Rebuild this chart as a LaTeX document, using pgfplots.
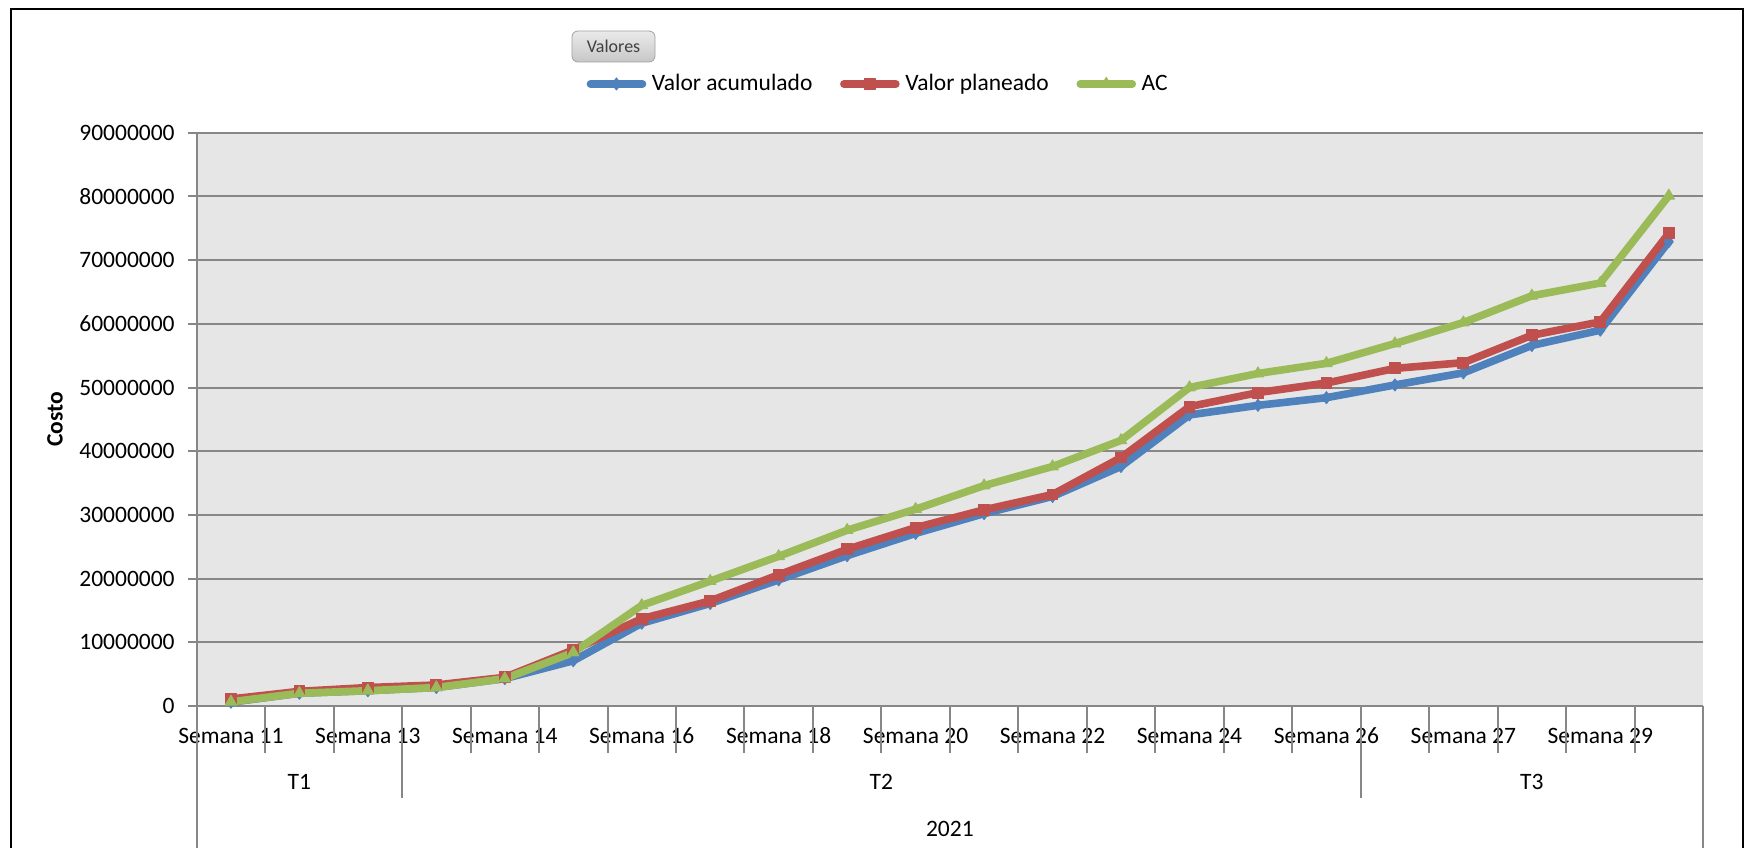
\documentclass[border=0pt]{standalone}
\usepackage{pgfplots}
\usepackage{pgfplotstable}
\pgfplotsset{compat=1.18}
\usepackage{fontspec}
\setmainfont{Carlito}
\definecolor{ser1}{HTML}{4F81BD}
\definecolor{ser2}{HTML}{C0504D}
\definecolor{ser3}{HTML}{9BBB59}
\definecolor{plotbg}{HTML}{E6E6E6}
\definecolor{gridc}{HTML}{878787}
\definecolor{btnborder}{HTML}{A0A0A0}
\newcommand\lbl{\fontsize{11.75}{14}\selectfont}
\pgfplotstableread{
x ev pv ac
0 600000 1100000 650000
1 2000000 2300000 2000000
2 2400000 2900000 2400000
3 2900000 3300000 2900000
4 4300000 4500000 4300000
5 7100000 8800000 8400000
6 13000000 13700000 15800000
7 16100000 16500000 19600000
8 19800000 20600000 23500000
9 23600000 24600000 27600000
10 27100000 28000000 30900000
11 30200000 30800000 34600000
12 32900000 33200000 37600000
13 37600000 39000000 41700000
14 45700000 47000000 50000000
15 47200000 49200000 52200000
16 48400000 50700000 53800000
17 50400000 53000000 56900000
18 52300000 53900000 60200000
19 56600000 58200000 64400000
20 59000000 60300000 66400000
21 72900000 74200000 80100000
}\datatable
\begin{document}
\begin{tikzpicture}
\begin{axis}[
  at={(98.35pt,70.5pt)}, anchor=south west,
  width=753.15pt, height=286.65pt, scale only axis,
  xmin=-0.5, xmax=21.5, ymin=0, ymax=90000000,
  clip=false,
  axis background/.style={fill=plotbg},
  axis x line*=bottom, axis y line*=left,
  axis line style={gridc, line width=1pt},
  ymajorgrids, major grid style={gridc, line width=1pt},
  ytick={0,10000000,20000000,30000000,40000000,50000000,60000000,70000000,80000000,90000000},
  scaled y ticks=false,
  tick align=outside, major tick length=4.5pt,
  y tick style={gridc, line width=1pt},
  yticklabel style={/pgf/number format/fixed, /pgf/number format/1000 sep={}, /pgf/number format/assume math mode=true, font=\lbl, anchor=east, xshift=-3pt},
  xtick={0,2,4,6,8,10,12,14,16,18,20},
  xticklabels={Semana 11,Semana 13,Semana 14,Semana 16,Semana 18,Semana 20,Semana 22,Semana 24,Semana 26,Semana 27,Semana 29},
  x tick style={draw=none},
  xticklabel style={font=\lbl, anchor=base, yshift=-14pt},
  ylabel={\textbf{Costo}},
  ylabel style={font=\lbl, at={(axis description cs:-0.0941,0.5)}, anchor=center, rotate=0},
  legend style={at={(0.4536,1.085)}, anchor=center, draw=none, fill=none, font=\lbl, inner sep=0pt,
    nodes={inner sep=2.8pt},
    /tikz/every even column/.append style={column sep=11pt}},
  legend columns=3,
  legend image code/.code={\draw[mark repeat=2,mark phase=2,#1] plot coordinates {(0pt,0pt)(13pt,0pt)(26pt,0pt)};},
]
\addplot[color=ser1, line width=3.8pt, line join=round, line cap=round, mark=diamond*, mark size=3pt, mark options={solid, line width=0.5pt}] table[x=x, y=ev] {\datatable};
\addlegendentry{Valor acumulado}
\addplot[color=ser2, line width=3.8pt, line join=round, line cap=round, mark=square*, mark size=2.7pt, mark options={solid, line width=0.5pt}] table[x=x, y=pv] {\datatable};
\addlegendentry{Valor planeado}
\addplot[color=ser3, line width=3.8pt, line join=round, line cap=round, mark=triangle*, mark size=3.3pt, mark options={solid, line width=0.5pt}] table[x=x, y=ac] {\datatable};
\addlegendentry{AC}
\pgfplotsinvokeforeach{0.5,1.5,3.5,4.5,5.5,6.5,7.5,8.5,9.5,10.5,11.5,12.5,13.5,14.5,15.5,17.5,18.5,19.5,20.5}{
  \draw[gridc, line width=1pt] (axis cs:#1,0) -- ++(0pt,-23.35pt);
}
\pgfplotsinvokeforeach{2.5,16.5}{
  \draw[gridc, line width=1pt] (axis cs:#1,0) -- ++(0pt,-46pt);
}
\pgfplotsinvokeforeach{-0.5,21.5}{
  \draw[gridc, line width=1pt] (axis cs:#1,0) -- ++(0pt,-80pt);
}
\node[font=\lbl, anchor=base] at ([yshift=-41.5pt]axis cs:1,0) {T1};
\node[font=\lbl, anchor=base] at ([yshift=-41.5pt]axis cs:9.5,0) {T2};
\node[font=\lbl, anchor=base] at ([yshift=-41.5pt]axis cs:19,0) {T3};
\node[font=\lbl, anchor=base] at ([yshift=-65pt]axis cs:10.5,0) {2021};
\end{axis}
\node[draw=btnborder, rounded corners=3pt, top color=white!92!black, bottom color=white!78!black,
  minimum width=41.5pt, minimum height=15.5pt, inner sep=0pt, text=black!75,
  font=\fontsize{9}{10}\selectfont] at (306.75pt,400.25pt) {Valores};
\draw[black, line width=1.1pt] (5.5pt,-5pt) -- (5.5pt,419pt) -- (871.5pt,419pt) -- (871.5pt,-5pt);
\pgfresetboundingbox
\path[use as bounding box] (0pt,0pt) rectangle (875pt,423.5pt);
\end{tikzpicture}
\end{document}
